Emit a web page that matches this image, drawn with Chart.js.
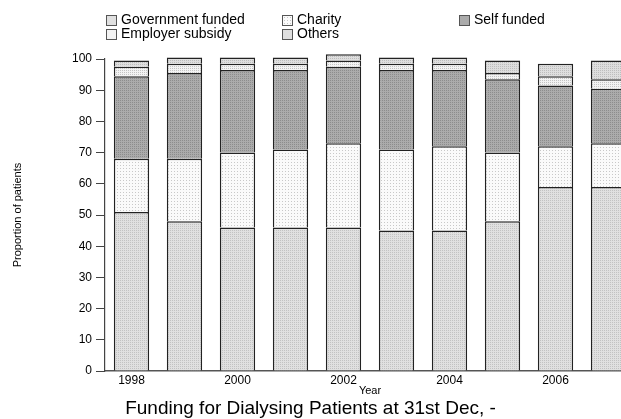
<!DOCTYPE html>
<html>
<head>
<meta charset="utf-8">
<script src="https://cdn.jsdelivr.net/npm/chart.js@4"></script>
<style>
body{margin:0;overflow:hidden;background:#fff;font-family:"Liberation Sans",Arial,sans-serif;}
#wrap{position:relative;width:621px;height:419px;overflow:hidden;}
#chart{position:absolute;left:0;top:0;}
.lg{position:absolute;font-size:14px;line-height:15px;white-space:nowrap;color:#000;}
.lg span{position:absolute;left:-15px;top:3px;width:9px;height:9px;border:1px solid #555;}
#title{position:absolute;left:0;top:398px;width:621px;text-align:center;font-size:19px;line-height:20px;color:#000;}
</style>
</head>
<body>
<div id="wrap">
<canvas id="chart" width="636" height="401"></canvas>
<div id="legend"></div>
<div id="title">Funding for Dialysing Patients at 31st Dec, -</div>
</div>
<script>
const years = ["1998","1999","2000","2001","2002","2003","2004","2005","2006","2007"];

const govFunded = [51, 48, 46, 46, 46, 45, 45, 48, 59, 59];
const charity   = [17, 20, 24, 25, 27, 26, 27, 22, 13, 14];
const selfFunded= [26.5, 27.5, 26.5, 25.5, 24.5, 25.5, 24.5, 23.5, 19.5, 17.5];
const employer  = [3, 3, 2, 2, 2, 2, 2, 2, 3, 3];
const others    = [2, 2, 2, 2, 2, 2, 2, 4, 4, 6];

const yTicks = [0,10,20,30,40,50,60,70,80,90,100];

// dotted fills like the original
function dots(bg, fg, size){
  const c = document.createElement("canvas");
  c.width = size; c.height = size;
  const g = c.getContext("2d");
  g.fillStyle = bg; g.fillRect(0,0,size,size);
  g.fillStyle = fg; g.fillRect(0,0,1,1);
  return g.createPattern(c,"repeat");
}
function dotsCss(bg, fg, size){
  return "background-color:"+bg+";background-image:radial-gradient("+fg+" 0.5px, transparent 0.6px);background-size:"+size+"px "+size+"px";
}

const series = [
  {label:"Government funded", data:govFunded, bg:"#e0e0e0", fg:"#c2c2c2", n:2},
  {label:"Charity",           data:charity,   bg:"#fafafa", fg:"#c8c8c8", n:3},
  {label:"Self funded",       data:selfFunded,bg:"#ababab", fg:"#8c8c8c", n:2},
  {label:"Employer subsidy",  data:employer,  bg:"#f3f3f3", fg:"#c4c4c4", n:2},
  {label:"Others",            data:others,    bg:"#dedede", fg:"#bdbdbd", n:2}
];

// legend: 3 columns, 2 rows
const legendPos = [[121,11.5],[297,11.5],[474,11.5],[121,26],[297,26]];
const legend = document.getElementById("legend");
series.forEach((s,i)=>{
  const d = document.createElement("div");
  d.className = "lg";
  d.style.left = legendPos[i][0]+"px";
  d.style.top = legendPos[i][1]+"px";
  d.innerHTML = '<span style="'+dotsCss(s.bg,s.fg,s.n)+'"></span>'+s.label;
  legend.appendChild(d);
});

const chart = new Chart(document.getElementById("chart"),{
  type:"bar",
  data:{
    labels:years,
    datasets:series.map(s=>({
      label:s.label,
      data:s.data,
      backgroundColor:dots(s.bg,s.fg,s.n),
      borderColor:"#222",
      borderWidth:1.5,
      barPercentage:0.667,
      categoryPercentage:1,
      clip:false
    }))
  },
  options:{
    responsive:false,
    animation:false,
    layout:{padding:{top:59,right:1,left:0,bottom:0}},
    plugins:{legend:{display:false},tooltip:{enabled:false}},
    scales:{
      x:{
        stacked:true,
        grid:{display:false,drawTicks:false},
        border:{display:true,color:"#555",width:1.5},
        ticks:{
          autoSkip:false,maxRotation:0,padding:2,color:"#000",
          font:{family:"Liberation Sans",size:12},
          callback:(v,i)=> i%2===0 ? years[i] : ""
        },
        title:{display:true,text:"Year",color:"#000",
          font:{family:"Liberation Sans",size:11},padding:{top:0,bottom:3}},
        afterFit:s=>{ s.height = 30; }
      },
      y:{
        stacked:true,
        min:0,max:100,
        afterBuildTicks:s=>{ s.ticks = yTicks.map(v=>({value:v})); },
        grid:{display:true,drawOnChartArea:false,drawTicks:true,tickLength:9,color:"#444"},
        border:{display:true,color:"#444",width:1.2},
        ticks:{padding:4,color:"#000",font:{family:"Liberation Sans",size:12}},
        title:{display:true,text:"Proportion of patients",color:"#000",
          font:{family:"Liberation Sans",size:11},padding:{top:11,bottom:0}},
        afterFit:s=>{ s.width = 105; }
      }
    }
  }
});
</script>
</body>
</html>
